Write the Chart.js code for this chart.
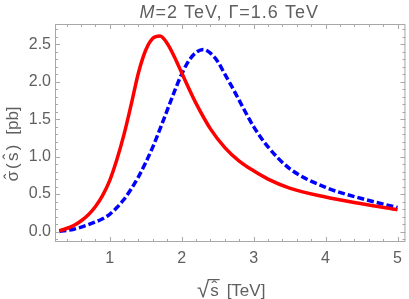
<!DOCTYPE html>
<html>
<head>
<meta charset="utf-8">
<script src="https://cdn.jsdelivr.net/npm/chart.js@4"></script>
<style>
  html, body { margin: 0; padding: 0; background: #fff; }
  #wrap { width: 409px; height: 299px; }
</style>
</head>
<body>
<div id="wrap"><canvas id="chart" width="409" height="299"></canvas></div>
<script>
// values
const redX = [0.3, 0.4, 0.5, 0.6, 0.7, 0.8, 0.9, 1.0, 1.1, 1.2, 1.3, 1.4, 1.5, 1.6, 1.7, 1.8, 1.9, 2.0, 2.1, 2.2, 2.4, 2.6, 2.8, 3.0, 3.2, 3.5, 4.0, 4.5, 5.0];
const redY = [0.01, 0.04, 0.08, 0.14, 0.22, 0.33, 0.48, 0.68, 0.96, 1.30, 1.70, 2.12, 2.42, 2.58, 2.61, 2.51, 2.33, 2.12, 1.91, 1.71, 1.37, 1.12, 0.94, 0.81, 0.70, 0.58, 0.46, 0.37, 0.29];
const blueX = [0.3, 0.5, 0.7, 0.9, 1.0, 1.1, 1.2, 1.3, 1.4, 1.5, 1.6, 1.7, 1.8, 1.9, 2.0, 2.1, 2.2, 2.3, 2.4, 2.5, 2.6, 2.7, 2.8, 3.0, 3.2, 3.5, 4.0, 4.5, 5.0];
const blueY = [0.0, 0.03, 0.09, 0.17, 0.23, 0.32, 0.43, 0.57, 0.73, 0.92, 1.13, 1.37, 1.62, 1.87, 2.10, 2.28, 2.39, 2.43, 2.38, 2.27, 2.10, 1.93, 1.75, 1.40, 1.13, 0.84, 0.59, 0.44, 0.32];
const xTicks = [1, 2, 3, 4, 5];
const yTicks = [0, 0.5, 1.0, 1.5, 2.0, 2.5];

const toPoints = (xs, ys) => xs.map((x, i) => ({ x, y: ys[i] }));

const gray = '#a8a8a8';
const textGray = '#5f5f5f';
const fontFamily = '"Liberation Sans", Arial, sans-serif';

const framePlugin = {
  id: 'frame',
  afterDraw(chart) {
    const { ctx, chartArea: a, scales } = chart;
    const xs = scales.x;
    const ys = scales.y;
    ctx.save();
    ctx.strokeStyle = gray;
    ctx.lineWidth = 1;
    ctx.strokeRect(a.left + 0.5, a.top + 0.5, a.right - a.left - 1, a.bottom - a.top - 1);

    // ticks on all four sides, pointing inward
    ctx.beginPath();
    for (let v = 0.4; v <= 5.01; v += 0.2) {
      const major = Math.abs(v - Math.round(v)) < 1e-6;
      const len = major ? 5 : 3;
      const px = Math.round(xs.getPixelForValue(v)) + 0.5;
      ctx.moveTo(px, a.bottom);
      ctx.lineTo(px, a.bottom - len);
      ctx.moveTo(px, a.top);
      ctx.lineTo(px, a.top + len);
    }
    for (let v = -0.1; v <= 2.71; v += 0.1) {
      const major = Math.abs(v * 2 - Math.round(v * 2)) < 1e-6;
      const len = major ? 5 : 3;
      const py = Math.round(ys.getPixelForValue(v)) + 0.5;
      ctx.moveTo(a.left, py);
      ctx.lineTo(a.left + len, py);
      ctx.moveTo(a.right, py);
      ctx.lineTo(a.right - len, py);
    }
    ctx.stroke();

    ctx.fillStyle = textGray;
    ctx.strokeStyle = textGray;
    ctx.textBaseline = 'alphabetic';
    const cx = (a.left + a.right) / 2;

    // title: italic M then the rest
    ctx.letterSpacing = '1px';
    ctx.font = '18px ' + fontFamily;
    const rest = '=2 TeV, \u0393=1.6 TeV';
    const restW = ctx.measureText(rest).width;
    ctx.font = 'italic 18px ' + fontFamily;
    const mW = ctx.measureText('M').width;
    const tx = cx - 1 - (mW + restW) / 2;
    ctx.fillText('M', tx, 17.5);
    ctx.font = '18px ' + fontFamily;
    ctx.fillText(rest, tx + mW, 17.5);
    ctx.letterSpacing = '0px';

    // x axis title: radical over s-hat, then unit
    const by = 296;
    ctx.font = '22px ' + fontFamily;
    const rootM = ctx.measureText('\u221A');
    const rootW = rootM.width;
    const rootTop = by + 1 - rootM.actualBoundingBoxAscent;
    ctx.font = '17px ' + fontFamily;
    const sW = ctx.measureText('s').width;
    const unit = '[TeV]';
    const uW = ctx.measureText(unit).width;
    const gap = 7;
    const total = rootW + sW + 2 + gap + uW;
    const x0 = cx + 1 - total / 2;
    ctx.font = '22px ' + fontFamily;
    ctx.fillText('\u221A', x0, by + 1);
    ctx.font = '17px ' + fontFamily;
    const sx = x0 + rootW + 1;
    ctx.fillText('s', sx, by);
    ctx.textAlign = 'center';
    ctx.fillText('\u02C6', sx + sW / 2, by - 3);
    ctx.textAlign = 'left';
    ctx.fillText(unit, sx + sW + 1 + gap, by);
    ctx.beginPath();
    ctx.lineWidth = 1.2;
    ctx.moveTo(x0 + rootW - 1.5, rootTop + 0.6);
    ctx.lineTo(sx + sW + 1, rootTop + 0.6);
    ctx.stroke();

    // y axis title, rotated, built from pieces so the hats sit over the letters
    ctx.save();
    ctx.translate(17.5, 144);
    ctx.rotate(-Math.PI / 2);
    ctx.font = '17px ' + fontFamily;
    const pieces = [
      { t: '\u03C3', hat: true },
      { t: '(' },
      { t: 's', hat: true },
      { t: ')' },
      { t: ' [pb]' },
    ];
    const sp = 2.2;
    const widths = pieces.map((p) => ctx.measureText(p.t).width);
    const full = widths.reduce((s, w) => s + w, 0) + sp * (pieces.length - 1) + 3;
    let px = -full / 2;
    pieces.forEach((p, i) => {
      ctx.textAlign = 'left';
      ctx.fillText(p.t, px, 0);
      if (p.hat) {
        ctx.textAlign = 'center';
        ctx.fillText('\u02C6', px + widths[i] / 2, p.t === 's' ? -3 : -2);
      }
      px += widths[i] + sp + (i === 3 ? 3 : 0);
    });
    ctx.restore();

    ctx.restore();
  }
};

new Chart(document.getElementById('chart'), {
  type: 'line',
  data: {
    datasets: [
      {
        data: toPoints(redX, redY),
        borderColor: '#ff0000',
        borderWidth: 3.5,
        pointRadius: 0,
        cubicInterpolationMode: 'monotone',
        fill: false,
      },
      {
        data: toPoints(blueX, blueY),
        borderColor: '#0000ff',
        borderWidth: 3.5,
        borderDash: [7, 3],
        pointRadius: 0,
        cubicInterpolationMode: 'monotone',
        fill: false,
      },
    ],
  },
  options: {
    responsive: false,
    animation: false,
    layout: { padding: { top: 24, right: 1, left: 0, bottom: 0 } },
    plugins: { legend: { display: false }, tooltip: { enabled: false }, title: { display: false } },
    scales: {
      x: {
        type: 'linear',
        min: 0.24,
        max: 5.11,
        grid: { display: false, drawTicks: false },
        border: { display: false },
        afterBuildTicks: (scale) => { scale.ticks = xTicks.map((v) => ({ value: v })); },
        afterFit: (scale) => { scale.height = 57; },
        ticks: {
          padding: 7,
          color: textGray,
          font: { family: fontFamily, size: 16 },
          callback: (v) => String(v),
          maxRotation: 0,
        },
      },
      y: {
        min: -0.14,
        max: 2.77,
        grid: { display: false, drawTicks: false },
        border: { display: false },
        afterBuildTicks: (scale) => { scale.ticks = yTicks.map((v) => ({ value: v })); },
        afterFit: (scale) => { scale.width = 55; },
        ticks: {
          padding: 4,
          color: textGray,
          font: { family: fontFamily, size: 16 },
          callback: (v) => Number(v).toFixed(1),
        },
      },
    },
  },
  plugins: [framePlugin],
});
</script>
</body>
</html>
